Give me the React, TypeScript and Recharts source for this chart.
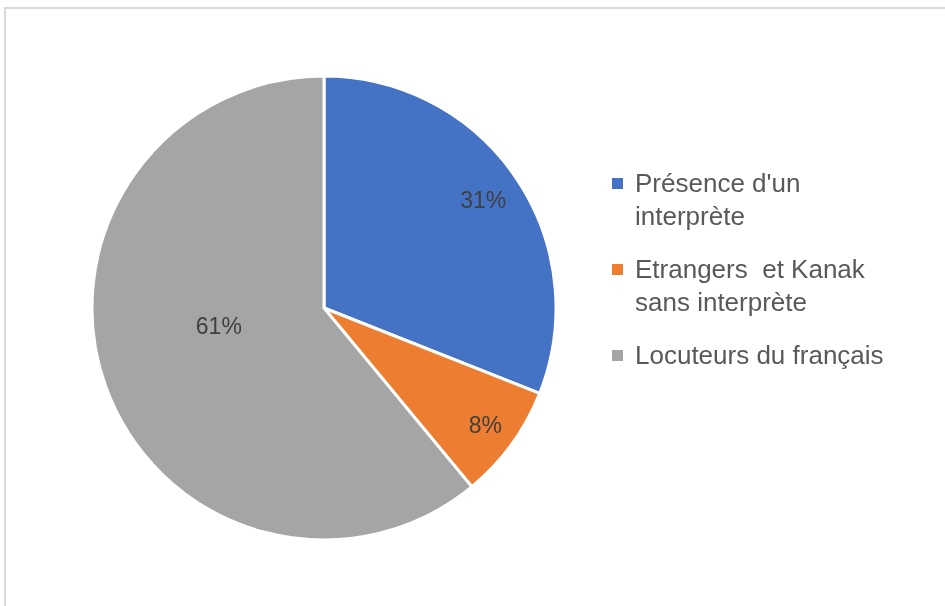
import { PieChart, Pie, Cell, Legend } from "recharts";

const categories = [
  "Présence d'un interprète",
  "Etrangers  et Kanak sans interprète",
  "Locuteurs du français"
];
const shares = [31, 8, 61];
const colors = ["#4472c4", "#ed7d31", "#a5a5a5"];

// label placement, tuned by eye (fraction of radius, angle shift in degrees)
const LABEL_RADIUS = [0.83, 0.86, 0.46];
const LABEL_SHIFT = [0, 0, -10];

const RAD = Math.PI / 180;
const FONT = "'Liberation Sans', Arial, sans-serif";

const chartData = categories.map((name, i) => ({ name, value: shares[i] }));

function renderLabel(props: any) {
  const { cx, cy, midAngle, outerRadius, index, value } = props;
  const a = (midAngle + LABEL_SHIFT[index]) * RAD;
  const r = outerRadius * LABEL_RADIUS[index];
  return (
    <text
      x={cx + r * Math.cos(a)}
      y={cy - r * Math.sin(a)}
      textAnchor="middle"
      dominantBaseline="central"
      fill="#404040"
      fontSize={23}
      fontFamily={FONT}
    >
      {value}%
    </text>
  );
}

// legend keeps the data order (recharts would sort it by name)
function LegendBox() {
  return (
    <div style={{ fontFamily: FONT, fontSize: 26, color: "#595959" }}>
      {categories.map((name, i) => (
        <div
          key={name}
          style={{ display: "flex", alignItems: "flex-start", marginBottom: 20 }}
        >
          <span
            style={{
              width: 11,
              height: 11,
              background: colors[i],
              marginTop: 11,
              marginRight: 12,
              flexShrink: 0
            }}
          />
          <span style={{ width: 262, whiteSpace: "pre-wrap", lineHeight: "33px" }}>
            {name}
          </span>
        </div>
      ))}
    </div>
  );
}

export default function App() {
  return (
    <>
      <div
        style={{
          position: "fixed",
          left: 4,
          top: 7,
          width: 1000,
          height: 700,
          border: "2px solid #d9d9d9",
          boxSizing: "border-box"
        }}
      />
      <div style={{ position: "fixed", left: 0, top: 0 }}>
        <PieChart width={945} height={606}>
          <Pie
            data={chartData}
            dataKey="value"
            nameKey="name"
            cx={319}
            cy={303}
            outerRadius={232}
            startAngle={90}
            endAngle={-270}
            stroke="#ffffff"
            strokeWidth={3}
            label={renderLabel}
            labelLine={false}
            isAnimationActive={false}
          >
            {chartData.map((d, i) => (
              <Cell key={d.name} fill={colors[i]} />
            ))}
          </Pie>
          <Legend
            layout="vertical"
            content={<LegendBox />}
            wrapperStyle={{ position: "absolute", left: 612, top: 167, width: 300 }}
          />
        </PieChart>
      </div>
    </>
  );
}
